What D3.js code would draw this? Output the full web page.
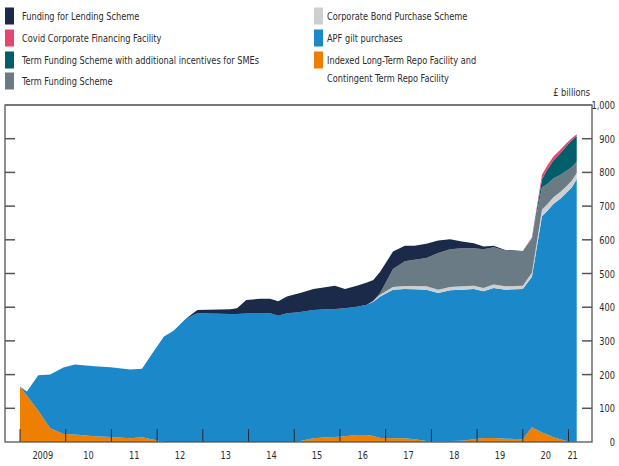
<!DOCTYPE html>
<html><head><meta charset="utf-8">
<script src="https://cdn.jsdelivr.net/npm/d3@7"></script>
<style>
body{margin:0;background:#fff;}
text{font-family:"DejaVu Sans Condensed","DejaVu Sans",sans-serif;font-stretch:condensed;fill:#2b2b2b;}
</style></head>
<body><svg id="c" width="619" height="466"></svg>
<script>
// ---- data (decimal years, £ billions) ----
const dates = [2009.00,2009.15,2009.40,2009.66,2009.95,2010.20,2010.63,2010.98,2011.41,2011.67,2011.93,2012.15,2012.36,2012.62,2012.88,2013.60,2013.75,2013.95,2014.25,2014.47,2014.65,2014.84,2015.04,2015.13,2015.42,2015.71,2015.89,2016.11,2016.37,2016.59,2016.73,2016.88,2017.16,2017.42,2017.63,2017.89,2018.15,2018.41,2018.67,2018.93,2019.14,2019.36,2019.62,2020.00,2020.20,2020.42,2020.53,2020.67,2020.82,2020.96,2021.07,2021.18];
const iltr  = [165,137,93,41,24,22,17,15,11,14,7,0,0,0,0,0,0,0,0,0,0,0,0,3,11,14,15,17,21,21,18,12,11,11,8,3,3,3,4,8,12,12,10,8,44,28,22,14,8,3,2,2];
const gilts = [0,13,105,159,197,208,208,207,204,203,263,313,330,365,382,380,380,381,381,382,375,382,384,383,381,380,380,380,380,386,398,420,441,443,445,449,439,447,448,446,435,445,442,446,446,642,663,692,714,737,753,778];
const cbps  = [0,0,0,0,0,0,0,0,0,0,0,0,0,0,0,0,0,0,0,0,0,0,0,0,0,0,0,0,0,0,3,5,8,9,10,10,10,10,10,10,10,10,10,10,12,20,20,20,20,20,20,18];
const tfs   = [0,0,0,0,0,0,0,0,0,0,0,0,0,0,0,0,0,0,0,0,0,0,0,0,0,0,0,0,0,0,0,5,53,73,78,84,109,112,113,111,115,111,106,102,102,65,60,56,50,45,40,34];
const tfsme = [0,0,0,0,0,0,0,0,0,0,0,0,0,0,0,0,0,0,0,0,0,0,0,0,0,0,0,0,0,0,0,0,0,0,0,0,0,0,0,0,0,0,0,0,0,25,42,53,65,74,80,76];
const ccff  = [0,0,0,0,0,0,0,0,0,0,0,0,0,0,0,0,0,0,0,0,0,0,0,0,0,0,0,0,0,0,0,0,0,0,0,0,0,0,0,0,0,0,0,0,2,12,12,12,10,8,6,5];
const fls   = [0,0,0,0,0,0,0,0,0,0,0,0,0,0,10,14,17,40,44,43,43,50,55,56,62,66,69,57,63,66,62,63,52,46,41,42,37,30,20,15,8,4,2,1,1,1,0,0,0,0,0,0];

const yearTicks = [2009,2010,2011,2012,2013,2014,2015,2016,2017,2018,2019,2020,2021];
const yearLabels = ["2009","10","11","12","13","14","15","16","17","18","19","20","21"];
const yTicks = [0,100,200,300,400,500,600,700,800,900,1000];

const series = [
  {key:"iltr",  name:"Indexed Long-Term Repo Facility and|Contingent Term Repo Facility", color:"#ee7f00", vals:iltr},
  {key:"gilts", name:"APF gilt purchases", color:"#1a88c9", vals:gilts},
  {key:"cbps",  name:"Corporate Bond Purchase Scheme", color:"#cdd0d3", vals:cbps},
  {key:"tfs",   name:"Term Funding Scheme", color:"#6b7b85", vals:tfs},
  {key:"tfsme", name:"Term Funding Scheme with additional incentives for SMEs", color:"#005f6b", vals:tfsme},
  {key:"ccff",  name:"Covid Corporate Financing Facility", color:"#e6466e", vals:ccff},
  {key:"fls",   name:"Funding for Lending Scheme", color:"#1b2a48", vals:fls}
];

const rows = dates.map((t,i)=>{const r={t}; series.forEach(s=>r[s.key]=s.vals[i]); return r;});
const stack = d3.stack().keys(series.map(s=>s.key))(rows);

const svg = d3.select("#c");
const L=5, R=592, T=105, B=442;
const x = d3.scaleLinear().domain([2009,2021]).range([20,568.5]);
const y = d3.scaleLinear().domain([0,1000]).range([B,T]);

const area = d3.area().x(d=>x(d.data.t)).y0(d=>y(d[0])).y1(d=>y(d[1]));
svg.append("g").selectAll("path").data(stack).join("path")
  .attr("d",area).attr("fill",(d,i)=>series[i].color);

// x year ticks
svg.append("g").selectAll("line").data(yearTicks).join("line")
  .attr("x1",d=>x(d)).attr("x2",d=>x(d)).attr("y1",B).attr("y2",B-13)
  .attr("stroke","#2a2a2a").attr("stroke-width",1);
// year labels
const labelPos = yearTicks.map((t,i)=> i<yearTicks.length-1 ? t+0.5 : t+0.09);
svg.append("g").selectAll("text").data(yearLabels).join("text")
  .attr("class","t").attr("x",(d,i)=>x(labelPos[i])).attr("y",459).attr("text-anchor","middle")
  .attr("font-size",11).text(d=>d);

// frame
svg.append("rect").attr("x",L).attr("y",T).attr("width",R-L).attr("height",B-T)
  .attr("fill","none").attr("stroke","#555").attr("stroke-width",1.3);
svg.append("line").attr("x1",L).attr("x2",R).attr("y1",T).attr("y2",T).attr("stroke","#777").attr("stroke-width",2);

// y ticks inside both sides
const inner = yTicks.filter(v=>v>0&&v<1000);
svg.append("g").selectAll("line").data(inner).join("line")
  .attr("x1",L).attr("x2",L+10).attr("y1",d=>y(d)).attr("y2",d=>y(d))
  .attr("stroke","#555").attr("stroke-width",1.5);
svg.append("g").selectAll("line").data(inner).join("line")
  .attr("x1",R-10).attr("x2",R).attr("y1",d=>y(d)).attr("y2",d=>y(d))
  .attr("stroke","#555").attr("stroke-width",1.5);
svg.append("g").selectAll("text").data(yTicks).join("text")
  .attr("class","t").attr("x",615).attr("y",d=>y(d)+4).attr("text-anchor","end")
  .attr("font-size",11).text(d=>d3.format(",")(d));
svg.append("text").attr("class","t").attr("x",590).attr("y",96).attr("text-anchor","end")
  .attr("font-size",11).text("£ billions");

// legend
const legLeft = ["fls","ccff","tfsme","tfs"], legRight=["cbps","gilts","iltr"];
const rowY=[16,38,60,81];
function legend(keys, sx, tx){
  keys.forEach((k,i)=>{
    const s=series.find(d=>d.key===k);
    svg.append("rect").attr("x",sx).attr("y",rowY[i]-8.5).attr("width",9).attr("height",17).attr("fill",s.color);
    s.name.split("|").forEach((ln,j)=>{
      svg.append("text").attr("class","t").attr("x",tx).attr("y",rowY[i]+4+j*18).attr("font-size",11).text(ln);
    });
  });
}
legend(legLeft,5,22);
legend(legRight,314,327);

// condense all text uniformly to match the narrow typeface of the reference
const ref = svg.selectAll("text.t").filter(function(){return this.textContent.startsWith("Term Funding Scheme with");}).node();
const k = 237 / ref.getComputedTextLength();
if (k < 1) {
  svg.selectAll("text.t").each(function(){
    const el = d3.select(this);
    const len = this.getComputedTextLength();
    const nl = len*k;
    const anchor = el.attr("text-anchor") || "start";
    const x0 = +el.attr("x");
    const xs = anchor==="end" ? x0-nl : anchor==="middle" ? x0-nl/2 : x0;
    el.attr("text-anchor","start").attr("x",xs)
      .attr("textLength", nl).attr("lengthAdjust","spacingAndGlyphs");
  });
}
</script></body></html>
